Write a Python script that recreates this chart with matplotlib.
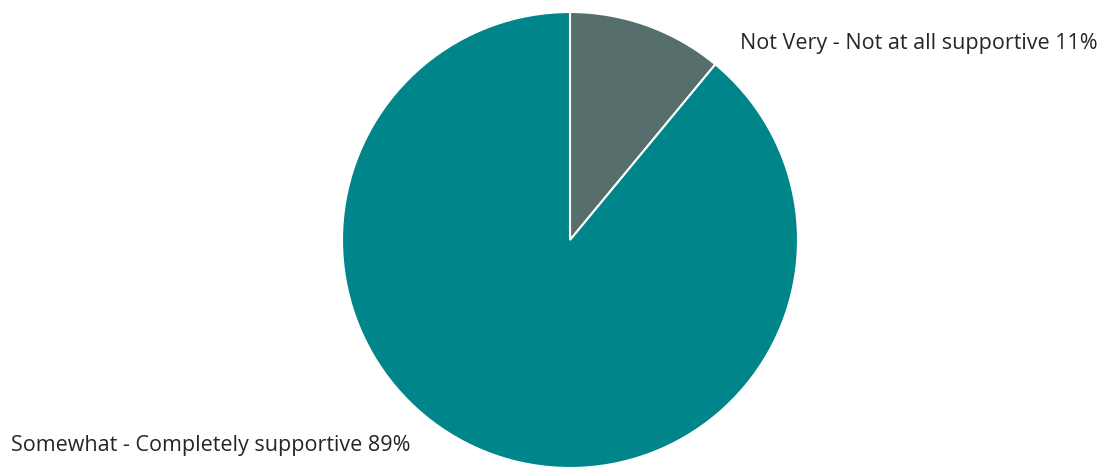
import matplotlib
matplotlib.use("Agg")
import matplotlib.pyplot as plt

categories = ["Not Very - Not at all supportive", "Somewhat - Completely supportive"]
values = [11, 89]
labels = [f"{c} {v}%" for c, v in zip(categories, values)]
colors = ["#566f6d", "#00858a"]

W, H = 1106, 468
fig = plt.figure(figsize=(W / 100, H / 100), dpi=100)
ax = fig.add_axes([0, 0, 1, 1])

ax.pie(values, colors=colors, startangle=90, counterclock=False,
       center=(570, H - 240), radius=228,
       wedgeprops=dict(edgecolor="white", linewidth=1.5))
ax.set_xlim(0, W)
ax.set_ylim(0, H)
ax.set_aspect("equal")
ax.axis("off")

ax.text(740, H - 44, labels[0], ha="left", va="center", fontsize=15.5,
        color="#262626", family="Open Sans")
ax.text(11, H - 445, labels[1], ha="left", va="center", fontsize=15.5,
        color="#262626", family="Open Sans")

fig.savefig("out.png", dpi=100)
